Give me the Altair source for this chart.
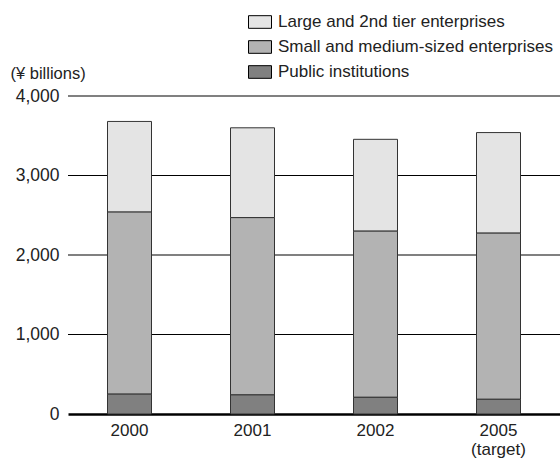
import altair as alt
import pandas as pd

years = ["2000", "2001", "2002", "2005 (target)"]
categories = ["Large and 2nd tier enterprises",
              "Small and medium-sized enterprises",
              "Public institutions"]
large = [1140, 1130, 1155, 1265]
sme = [2290, 2230, 2090, 2090]
public = [250, 240, 210, 185]
colors = ["#e4e4e4", "#b3b3b3", "#808080"]
grid_values = [1000, 2000, 3000, 4000]

rows = []
for i, y in enumerate(years):
    for j, (cat, vals) in enumerate(zip(categories, [large, sme, public])):
        rows.append({"year": y, "category": cat, "value": vals[i],
                     "stack": len(categories) - j})
df = pd.DataFrame(rows)

FONT = "Liberation Sans"

x_enc = alt.X("year:N", sort=years,
              scale=alt.Scale(paddingInner=0, paddingOuter=0),
              axis=alt.Axis(title=None, labelAngle=0, ticks=False,
                            domain=True, domainColor="#000", domainWidth=2.5,
                            labelFontSize=17, labelColor="#222",
                            labelPadding=8, labelLineHeight=19,
                            labelExpr="split(datum.label, ' ')"))

grid = alt.Chart(pd.DataFrame({"v": grid_values})).mark_rule().encode(
    y=alt.Y("v:Q", scale=alt.Scale(domain=[0, 4000])),
    color=alt.condition("datum.v % 2000 == 0", alt.value("#808080"), alt.value("#000")),
    strokeWidth=alt.condition("datum.v % 2000 == 0", alt.value(2), alt.value(1)),
)

bars = alt.Chart(df).mark_bar(size=44, stroke="#333", strokeWidth=1).encode(
    x=x_enc,
    y=alt.Y("value:Q", stack="zero",
            scale=alt.Scale(domain=[0, 4000], nice=False),
            axis=alt.Axis(values=[0, 1000, 2000, 3000, 4000], format=",.0f",
                          grid=False, ticks=False, domain=False,
                          labelFontSize=17.5, labelColor="#222", labelPadding=9,
                          title="(¥ billions)", titleAngle=0, titleAlign="left",
                          titleBaseline="middle", titleX=-58, titleY=-23,
                          titleFontSize=16.5, titleFontWeight="normal",
                          titleColor="#222")),
    color=alt.Color("category:N",
                    scale=alt.Scale(domain=categories, range=colors),
                    legend=alt.Legend(title=None, orient="none",
                                      legendX=180, legendY=-86,
                                      symbolType="M-1,-0.55H1V0.55H-1Z",
                                      symbolSize=529,
                                      symbolStrokeColor="#000",
                                      symbolStrokeWidth=1,
                                      symbolOpacity=1,
                                      labelFontSize=17, labelColor="#222",
                                      labelLimit=0,
                                      labelOffset=6, rowPadding=4)),
    order=alt.Order("stack:Q", sort="ascending"),
)

chart = alt.layer(grid, bars).properties(
    width=492, height=318,
    padding={"left": 68, "top": 96, "right": 0, "bottom": 47},
    autosize=alt.AutoSizeParams(type="none"),
).configure(font=FONT).configure_view(stroke=None)

chart.save("out.html", embed_options={"renderer": "svg", "actions": False})
